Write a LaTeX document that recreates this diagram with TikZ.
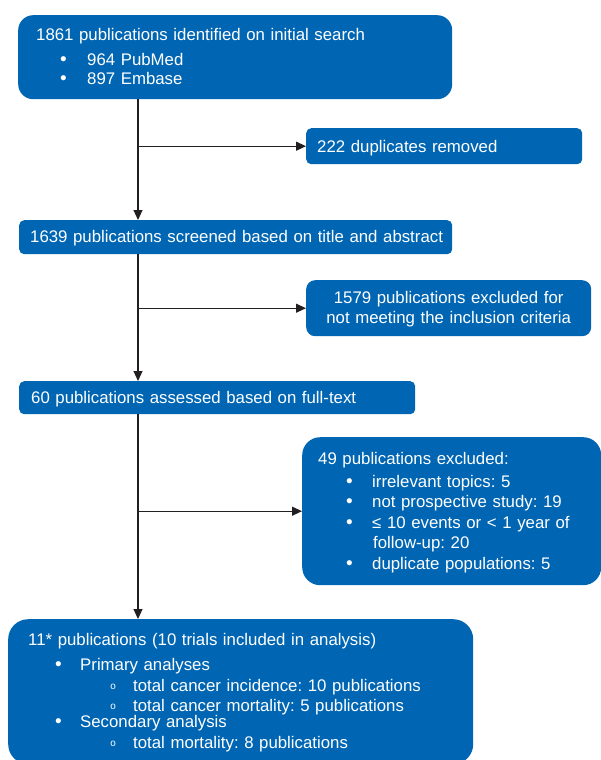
\documentclass[tikz,border=0pt]{standalone}
\usepackage{fontspec}
\setmainfont{Liberation Sans}
\newfontfamily\ringfont{Liberation Mono}
\usetikzlibrary{arrows.meta}
\definecolor{flowblue}{RGB}{0,102,179}
\definecolor{arrowgray}{RGB}{35,31,32}
\frenchspacing
\newcommand{\dotitem}[2]{\hspace*{#1}\makebox[#2][l]{{\fontsize{19}{19}\selectfont •}}}
\newcommand{\ringitem}[2]{\hspace*{#1}\makebox[#2][l]{\raisebox{1.5pt}{\ringfont\fontsize{10}{10}\selectfont o}}}

\begin{document}
\begin{tikzpicture}[x=1pt,y=-1pt,
  box/.style={fill=flowblue, text=white, anchor=north west, align=left, inner ysep=0pt,
    font=\fontsize{16.8}{20.5}\selectfont},
  flow/.style={draw=arrowgray, line width=1.1pt, -{Triangle[length=10pt,width=9pt]}}]
\useasboundingbox (0,0) rectangle (600,760);

\node[box, rounded corners=15pt, inner xsep=18pt, text width=398pt, text height=25pt, text depth=59pt] (search) at (18,15) {1861 publications identified on initial search\\[4.5pt]
\dotitem{24pt}{27pt}964 PubMed\\[-1pt]
\dotitem{24pt}{27pt}897 Embase};
\node[box, rounded corners=5pt, inner xsep=11pt, text width=254pt, text height=24pt, text depth=12pt] (dup) at (306,128) {222 duplicates removed};
\node[box, rounded corners=5pt, inner xsep=11pt, text width=411pt, text height=22pt, text depth=12pt] (screen) at (19,220) {\mbox{1639 publications screened based on title and abstract}};
\node[box, rounded corners=9pt, inner xsep=10pt, text width=265pt, text height=23pt, text depth=33pt, align=center] (excl) at (306,280) {1579 publications excluded for\\[-0.5pt]
not meeting the inclusion criteria};
\node[box, rounded corners=5pt, inner xsep=12pt, text width=372pt, text height=22pt, text depth=11pt] (full) at (19,381) {60 publications assessed based on full-text};
\node[box, rounded corners=18pt, inner xsep=16pt, text width=267pt, text height=27pt, text depth=121pt] (excl2) at (302,437) {49 publications excluded:\\[2.5pt]
\dotitem{28pt}{26pt}irrelevant topics: 5\\
\dotitem{28pt}{26pt}not prospective study: 19\\
\dotitem{28pt}{26pt}≤ 10 events or < 1 year of\\
\hspace*{55pt}follow-up: 20\\
\dotitem{28pt}{26pt}duplicate populations: 5};
\node[box, rounded corners=20pt, inner xsep=20pt, text width=425pt, text height=26pt, text depth=119pt] (incl) at (8,619) {11* publications (10 trials included in analysis)\\[4.5pt]
\dotitem{27pt}{25pt}Primary analyses\\[0.5pt]
\ringitem{82pt}{23pt}total cancer incidence: 10 publications\\[-0.5pt]
\ringitem{82pt}{23pt}total cancer mortality: 5 publications\\[-4.5pt]
\dotitem{27pt}{25pt}Secondary analysis\\[0.5pt]
\ringitem{82pt}{23pt}total mortality: 8 publications};

% spine and side branches
\coordinate (spine) at (138,0);
\draw[flow] (search.south -| spine) -- (screen.north -| spine);
\draw[flow] (dup.west -| spine) -- (dup.west);
\draw[flow] (screen.south -| spine) -- (full.north -| spine);
\draw[flow] (excl.west -| spine) -- (excl.west);
\draw[flow] (full.south -| spine) -- (incl.north -| spine);
\draw[flow] (excl2.west -| spine) -- (excl2.west);
\end{tikzpicture}
\end{document}
